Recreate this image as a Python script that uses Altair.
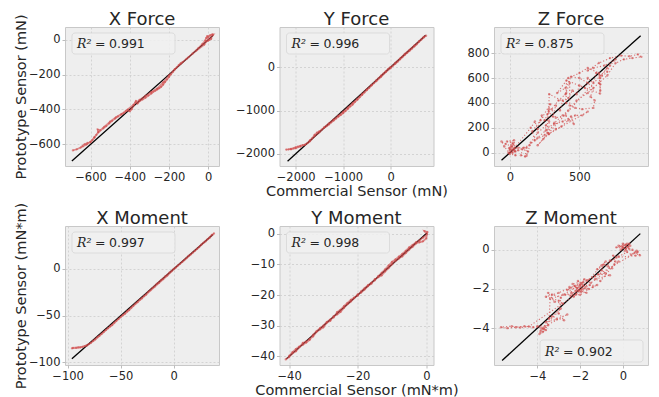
import altair as alt
import pandas as pd

RED = "#d04a4a"
TXT = "#262626"

titles = ["X Force", "Y Force", "Z Force", "X Moment", "Y Moment", "Z Moment"]
r2_values = ["0.991", "0.996", "0.875", "0.997", "0.998", "0.902"]
x_titles = [None, "Commercial Sensor (mN)", None, None, "Commercial Sensor (mN*m)", None]
y_titles = ["Prototype Sensor (mN)", None, None, "Prototype Sensor (mN*m)", None, None]

x_ticks = [[-600, -400, -200, 0], [-2000, -1000, 0], [0, 500],
           [-100, -50, 0], [-40, -20, 0], [-4, -2, 0]]
y_ticks = [[-600, -400, -200, 0], [-2000, -1000, 0], [0, 200, 400, 600, 800],
           [-100, -50, 0], [-40, -30, -20, -10, 0], [-4, -2, 0]]
x_domains = [[-730, 55], [-2340, 905], [-114, 993], [-102.5, 42.7], [-42.8, 2.1], [-6.03, 1.18]]
y_domains = [[-724, 73], [-2280, 930], [-107, 1010], [-102.8, 46], [-42.8, 2.5], [-5.88, 1.21]]

# y = x reference line extent per panel
fit_lo = [-695, -2170, -60, -96, -40.8, -5.65]
fit_hi = [25, 740, 940, 37, 0.2, 0.82]

# ---- X Force (commercial, prototype) ----
xf_c = [-690, -670, -650, -630, -615, -600, -590, -580, -570, -560, -563, -550, -535, -520, -505, -490,
        -475, -460, -445, -430, -420, -410, -400, -390, -380, -372, -368, -360, -350, -335, -320, -305,
        -290, -280, -270, -260, -250, -240, -230, -220, -210, -200, -190, -180, -170, -160, -150, -140,
        -130, -110, -80, -50, -30, -15, -10, 0, 10, 20, 15, 0, -5, 25, 5, -10,
        -20, -60, -100, -140, -170, -200, -230, -260, -290, -320, -350, -380, -410, -440, -470, -500,
        -530, -560, -580, -600, -620, -640]
xf_p = [-635, -628, -618, -600, -592, -588, -575, -560, -545, -530, -515, -520, -508, -495, -480, -465,
        -452, -440, -430, -420, -410, -405, -410, -398, -375, -360, -352, -365, -352, -342, -332, -320,
        -308, -298, -292, -285, -278, -270, -258, -242, -228, -214, -198, -184, -170, -158, -145, -135,
        -128, -110, -80, -48, -25, -5, 10, 15, 25, 30, 5, -5, 20, 28, 0, -10,
        -28, -62, -100, -138, -168, -205, -245, -280, -300, -322, -345, -372, -400, -425, -445, -470,
        -500, -530, -560, -585, -600, -612]

# ---- Y Force ----
yf_c = [-2200, -2150, -2100, -2050, -2000, -1950, -1900, -1850, -1800, -1750, -1700, -1650, -1600, -1550,
        -1500, -1450, -1400, -1350, -1300, -1250, -1200, -1150, -1100, -1050, -1000, -950, -900, -850,
        -800, -750, -700, -650, -600, -550, -500, -450, -400, -350, -300, -250, -200, -150, -100, -50,
        0, 50, 100, 150, 200, 250, 300, 350, 400, 450, 500, 550, 600, 650, 700, 750,
        700, 600, 500, 400, 300, 200, 100, 0, -100, -200, -300, -400, -500, -600, -700, -800, -900,
        -1000, -1100, -1200, -1300, -1400, -1500, -1600, -1700, -1800, -1900, -2000, -2100]
yf_p = [-1900, -1895, -1885, -1870, -1850, -1835, -1815, -1800, -1785, -1750, -1690, -1640, -1560, -1510,
        -1480, -1440, -1400, -1360, -1320, -1270, -1230, -1185, -1140, -1100, -1060, -1010, -960, -905,
        -860, -800, -750, -690, -640, -580, -530, -475, -420, -365, -305, -250, -195, -145, -95, -40,
        5, 35, 80, 130, 185, 235, 285, 335, 380, 430, 480, 530, 590, 640, 690, 730,
        700, 600, 500, 400, 310, 200, 100, -20, -110, -220, -320, -410, -510, -620, -730, -830, -930,
        -1030, -1120, -1210, -1300, -1390, -1500, -1590, -1710, -1790, -1830, -1870, -1895]

# ---- Z Force ----
zf_c = [0, 20, -20, 30, 40, -10, 10, 35, -30, -60, -40, 0, 40, 25, 60, 120, 110, 80, 90, 130, 120,
        150, 200, 260, 250, 180, 160, 220, 290, 270, 270, 320, 380, 440, 460, 400, 330, 300, 350, 400,
        430, 430, 470, 520, 600, 610, 580, 600, 560, 500, 440, 400, 340, 420, 500, 560, 640, 650, 650,
        700, 720, 760, 680, 600, 560, 640, 720, 800, 860, 920, 945, 880, 820, 760, 700, 640, 560, 480,
        420, 380, 320, 260, 200, 140, 100, 60, 20, 0,
        5, 15, 25, 35, -5, 20,
        150, 180, 200, 230, 250, 280, 310, 330, 360, 380, 420, 450, 480, 500, 540, 560, 600, 620, 660, 700,
        200, 240, 280, 330, 370, 420, 470, 520, 560,
        280, 282, 280, 283, 405, 405, 407, 648, 650, 646]
zf_p = [20, 80, 90, 100, 10, 0, 60, 40, 70, 90, 50, -10, -20, 30, 40, 40, -30, -20, 30, 10, -25,
        80, 160, 220, 140, 100, 170, 260, 390, 310, 160, 230, 250, 290, 230, 300, 280, 350, 420, 470,
        560, 380, 360, 350, 360, 420, 450, 520, 560, 600, 610, 520, 480, 600, 640, 680, 640, 500, 600,
        650, 700, 750, 700, 680, 660, 720, 760, 780, 775, 790, 770, 760, 750, 720, 620, 560, 480, 420,
        340, 300, 240, 180, 120, 60, 40, 20, 0, 40,
        5, 45, 70, 15, 35, 20,
        200, 250, 190, 300, 260, 330, 290, 380, 340, 420, 440, 500, 470, 540, 520, 600, 560, 640, 620, 680,
        60, 110, 150, 190, 210, 260, 300, 300, 330,
        150, 250, 350, 470, 400, 480, 580, 475, 550, 620]

# ---- X Moment ----
xm_c = [-96, -92, -88, -84, -80, -76, -72, -68, -64, -60, -56, -52, -48, -44, -40, -36, -32, -28, -24,
        -20, -16, -12, -8, -4, 0, 4, 8, 12, 16, 20, 24, 28, 32, 36, 38,
        34, 30, 26, 22, 18, 14, 10, 6, 2, -2, -6, -10, -14, -18, -22, -26, -30, -34, -38, -42, -46,
        -50, -54, -58, -62, -66, -70, -74, -78, -82, -86, -90, -95]
xm_p = [-85, -84.5, -84, -82.5, -80.5, -77, -73, -69.5, -65.5, -61.5, -57.5, -53.5, -49.5, -45.5, -41.5,
        -37, -33, -29, -24.5, -20.5, -16, -12, -8, -4, 0, 3.8, 7.5, 11.5, 15.5, 19.5, 23.5, 28, 32,
        36.5, 38,
        33.5, 29.5, 26, 21.5, 17.5, 14, 9.5, 5.5, 1.5, -2.5, -7, -11, -15, -19, -23, -27.5, -31.5,
        -35.5, -39.5, -44, -48, -51.5, -55.5, -60, -63.5, -67.5, -71.5, -75.5, -79, -82, -83.5, -84,
        -84.5]

# ---- Y Moment ----
ym_c = [-41, -40, -39, -38, -37, -36, -35, -34, -33, -32, -31, -30, -29, -28, -27, -26, -25, -24, -23,
        -22, -21, -20, -19, -18, -17, -16, -15, -14, -13, -12, -11, -10, -9, -8, -7, -6, -5, -4, -3,
        -2, -1, 0, 0.3, -0.5, 0.2,
        -1, -2, -3, -4, -5, -6, -7, -8, -9, -10, -11, -12, -13, -14, -15, -16, -17, -18, -19, -20,
        -21, -22, -23, -24, -25, -26, -27, -28, -29, -30, -31, -32, -33, -34, -35, -36, -37, -38,
        -39, -40]
ym_p = [-41, -40.2, -39, -38.3, -37, -35.6, -35.2, -34.3, -33.5, -32, -31.2, -30.5, -29, -28.4, -26.9,
        -26.3, -25.5, -24.2, -23, -22.1, -21, -19.8, -19.2, -18.2, -17.1, -16.3, -14.8, -14.2, -13.6,
        -12.3, -11.2, -10, -8.9, -8.1, -7.4, -6.3, -5.2, -4.3, -3.2, -2.8, -2.5, -1.5, 0.5, 0.8, -0.3,
        -1.3, -2.2, -2.8, -3.7, -4.5, -5.6, -6.6, -7.5, -8.4, -9.2, -10.4, -11.6, -12.8, -13.8, -15.2,
        -16, -16.8, -17.8, -18.8, -20.2, -20.8, -21.6, -22.6, -23.6, -24.8, -25.6, -27.3, -28, -28.8,
        -30, -30.8, -31.8, -33, -34.6, -35.5, -36.2, -36.8, -37.6, -38.6, -39.8]

# ---- Z Moment ----
zm_c = [0.0, 0.2, -0.2, 0.3, 0.1, -0.1, 0.25, 0.0, 0.35, -0.3, 0.15, -0.05, 0.3, 0.1, 0.45, 0.55, 0.8,
        0.65, 0.4, 0.2,
        -0.2, -0.45, -0.35, -0.6, -0.7, -0.5, -0.9, -1.0, -0.8, -1.15, -0.6, -1.3, -1.05, -0.4, -0.2,
        -1.5, -1.8, -2.0, -2.2, -1.7, -2.5, -2.3, -1.9, -2.1, -1.6, -2.4, -2.7, -2.0, -1.4, -1.2,
        -1.85, -2.15, -1.95, -2.35, -1.65, -2.6, -1.3,
        -3.0, -3.3, -3.6, -3.0, -2.8, -3.2, -3.5, -2.9,
        -3.0, -2.75, -3.3, -3.6, -3.1, -2.6,
        -3.8, -3.9, -3.6, -4.0, -3.5, -3.75, -3.65,
        -4.2, -4.6, -5.0, -5.4, -5.7, -5.2, -4.8, -4.4,
        -1.75, -2.05, -2.25, -1.55, -2.45, -1.9, -2.2, -1.0, -0.8, -1.2, -0.3, 0.6, 0.7,
        -2.8, -3.4, -3.45, -2.9, -3.85, -3.7]
zm_p = [0.1, 0.3, 0.2, 0.05, 0.25, 0.0, 0.15, 0.3, 0.2, 0.12, 0.05, 0.18, 0.3, -0.05, 0.0, -0.15, -0.28,
        -0.05, -0.25, -0.12,
        -0.35, -0.3, -0.6, -0.55, -0.85, -0.95, -0.75, -1.05, -1.2, -1.25, -1.3, -1.5, -1.6, -0.75, -0.6,
        -1.7, -1.5, -1.8, -2.1, -2.2, -1.9, -2.4, -2.0, -1.6, -2.0, -2.2, -2.3, -2.3, -1.9, -1.8,
        -1.85, -1.95, -2.15, -1.75, -1.55, -2.05, -1.35,
        -2.2, -2.3, -2.4, -2.6, -2.75, -2.65, -2.2, -2.45,
        -3.25, -3.6, -3.4, -3.7, -3.55, -3.3,
        -4.0, -4.3, -4.1, -3.9, -3.85, -4.2, -3.95,
        -3.95, -3.9, -3.95, -4.0, -3.95, -3.9, -3.97, -3.92,
        -1.95, -2.05, -1.85, -1.8, -2.35, -1.7, -2.3, -0.8, -0.6, -1.0, -0.4, -0.3, -0.1,
        -2.3, -2.5, -3.5, -3.0, -4.15, -4.05]

series_c = [xf_c, yf_c, zf_c, xm_c, ym_c, zm_c]
series_p = [xf_p, yf_p, zf_p, xm_p, ym_p, zm_p]
dotted = [False, False, True, False, False, True]

# R^2 box placement inside the plot area (pixels): x0, x1, y0, y1, text x, "=" x, baseline
box_pos = [(7, 110, 6, 27, 12, 30, 21)] * 5 + [(46, 149, 114, 136, 51, 69, 130)]

W, H = 154, 139


def panel(i):
    df = pd.DataFrame({"c": series_c[i], "p": series_p[i], "k": list(range(len(series_c[i])))})
    xs = alt.Scale(domain=x_domains[i], nice=False, zero=False)
    ys = alt.Scale(domain=y_domains[i], nice=False, zero=False)
    xax = alt.Axis(values=x_ticks[i], title=x_titles[i], format="d")
    yax = alt.Axis(values=y_ticks[i], title=y_titles[i], format="d")
    X = alt.X("c:Q", scale=xs, axis=xax)
    Y = alt.Y("p:Q", scale=ys, axis=yax)

    fit = alt.Chart(pd.DataFrame({"c": [fit_lo[i], fit_hi[i]], "p": [fit_lo[i], fit_hi[i]]})).mark_line(
        color="black", strokeWidth=1.3).encode(x=X, y=Y)
    if dotted[i]:
        line_kw = dict(color=RED, strokeWidth=1.1, opacity=0.75, strokeDash=[1.2, 2], clip=True)
    else:
        line_kw = dict(color=RED, strokeWidth=1.8, opacity=0.6, clip=True)
    trace = alt.Chart(df).mark_line(**line_kw).encode(x=X, y=Y, order="k:Q")
    pts = alt.Chart(df).mark_circle(color=RED, size=6 if dotted[i] else 5,
                                    opacity=0.6, clip=True).encode(x=X, y=Y)

    bx0, bx1, by0, by1, tx, ex, base = box_pos[i]
    one = pd.DataFrame({"t": [r2_values[i]], "title": [titles[i]]})
    box = alt.Chart(one).mark_rect(fill="#f1f1f1", stroke="#d9d9d9", strokeWidth=1,
                                   cornerRadius=3, opacity=0.85).encode(
        x=alt.value(bx0), x2=alt.value(bx1), y=alt.value(by0), y2=alt.value(by1))
    r_txt = alt.Chart(one).mark_text(text="R²", font="DejaVu Serif", fontStyle="italic",
                                     fontSize=12.5, align="left", baseline="alphabetic",
                                     color=TXT).encode(x=alt.value(tx), y=alt.value(base))
    eq_txt = alt.Chart(one).mark_text(text="=", font="DejaVu Sans", fontSize=12.5, align="left",
                                      baseline="alphabetic", color=TXT).encode(
        x=alt.value(ex), y=alt.value(base))
    v_txt = alt.Chart(one).mark_text(font="DejaVu Sans", fontSize=12.5, align="left",
                                     baseline="alphabetic", color=TXT).encode(
        text=alt.Text("t:N"), x=alt.value(ex + 14), y=alt.value(base))
    head = alt.Chart(one).mark_text(font="DejaVu Sans", fontSize=18, align="center",
                                    baseline="alphabetic", color=TXT).encode(
        text=alt.Text("title:N"), x=alt.value(W / 2), y=alt.value(-2))

    return alt.layer(fit, trace, pts, box, r_txt, eq_txt, v_txt, head).properties(width=W, height=H)


chart = alt.concat(*[panel(i) for i in range(6)], columns=3,
                   spacing=alt.RowColnumber(row=60, column=60.5), bounds="flush").properties(
    padding={"left": 4, "top": 2, "right": 0, "bottom": 0}
).configure_view(
    fill="#eeeeee", stroke="#c8c8c8", strokeWidth=1
).configure_axis(
    labelFont="DejaVu Sans", labelFontSize=11.5, labelColor=TXT, labelPadding=2,
    tickSize=3, tickColor="#bcbcbc", domain=False,
    grid=True, gridColor="#cccccc", gridDash=[2, 2], gridWidth=0.8,
    titleFont="DejaVu Sans", titleFontSize=14.5, titleFontWeight="normal", titleColor=TXT,
    titlePadding=2
).configure_axisLeft(titlePadding=0)

chart.save("out.html", embed_options={"renderer": "svg", "actions": False})
